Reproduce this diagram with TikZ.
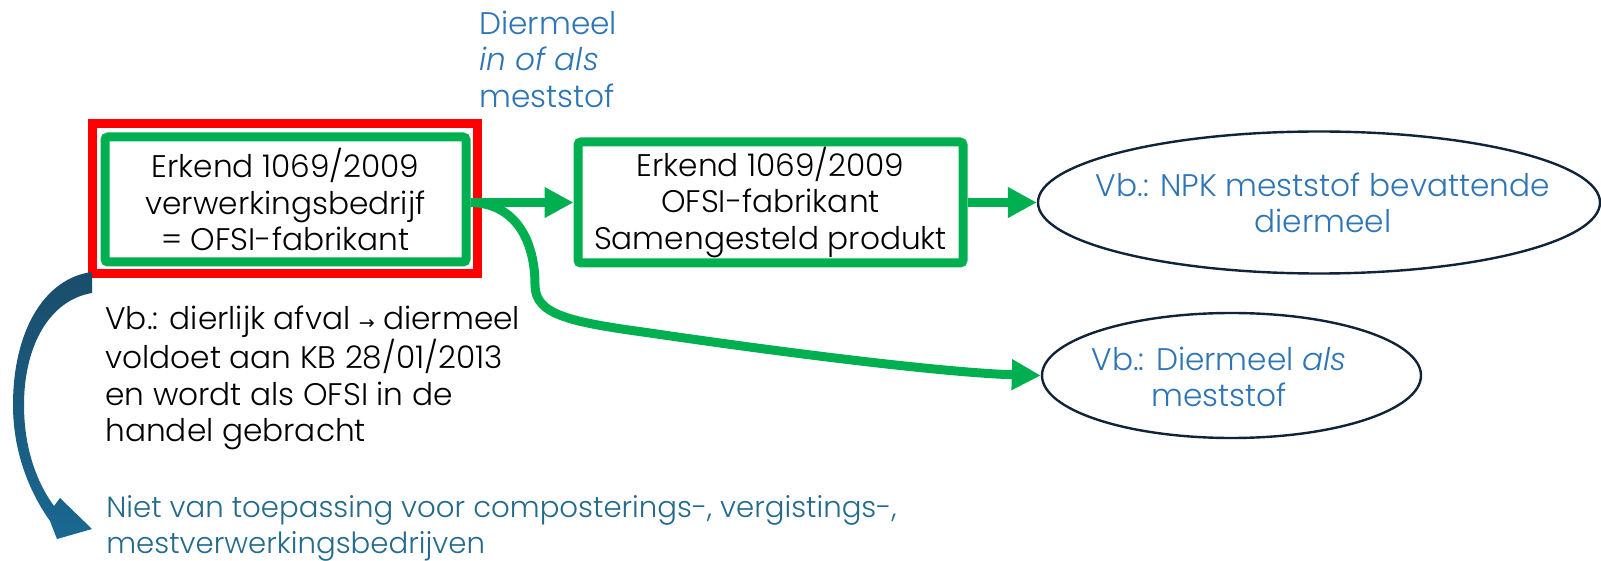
\documentclass[tikz,border=0pt]{standalone}
\usepackage{fontspec}
\setmainfont{Poppins Light}[ItalicFont={Poppins Light Italic}]
\newfontfamily\symfont{DejaVu Sans}
\usetikzlibrary{arrows.meta,shapes.geometric}
\definecolor{mygreen}{HTML}{00B050}
\definecolor{myred}{HTML}{FF0000}
\definecolor{myblue}{HTML}{2E75B6}
\definecolor{tealblue}{HTML}{236A8C}
\definecolor{navy}{HTML}{0F2438}
\definecolor{arrowtop}{HTML}{1A4D6B}
\definecolor{arrowbot}{HTML}{1A6891}
\begin{document}
\begin{tikzpicture}[x=0.5pt,y=-0.5pt,
  font=\fontsize{15.6pt}{18.25pt}\selectfont,
  greenbox/.style={draw=mygreen, line width=4.5pt, rounded corners=1.5pt, rectangle, inner sep=0pt, align=center},
  redbox/.style={draw=myred, line width=4.5pt, rectangle, inner sep=0pt},
  oval/.style={draw=navy, line width=1.2pt, ellipse, inner sep=0pt},
  ovaltext/.style={inner sep=0pt, align=center, text=myblue},
  garrow/.style={draw=mygreen, line width=4.5pt, -{Triangle[length=14.5pt,width=14.5pt]}},
  txt/.style={inner sep=0pt, align=left, anchor=west}]
\useasboundingbox (0,0) rectangle (1601,561);

\node[redbox, minimum width=192.5pt, minimum height=75pt] (red) at (284.5,199) {};
\node[greenbox, minimum width=180.5pt, minimum height=62.5pt] (box1) at (285.5,199.5)
  {Erkend 1069/2009\\verwerkingsbedrijf\\= OFSI-fabrikant};
\node[greenbox, minimum width=192.5pt, minimum height=60.5pt] (box2) at (770.5,202.5)
  {Erkend 1069/2009\\OFSI-fabrikant\\Samengesteld produkt};
\node[oval, minimum width=281pt, minimum height=71pt] (ell1) at (1319,202.5) {};
\node[ovaltext] (ell1txt) at (1323,203)
  {Vb.: NPK meststof bevattende\\diermeel};
\node[oval, minimum width=189.5pt, minimum height=62.5pt] (ell2) at (1231.5,375.5) {};
\node[ovaltext] (ell2txt) at (1219,377)
  {Vb.: Diermeel \textit{als}\\meststof};

\node[txt, text=myblue] (top) at (479,59) {Diermeel\\\textit{in of als}\\meststof};
\node[txt] (expl) at (105,378) {Vb.: dierlijk afval {\symfont\fontsize{9.5pt}{9.5pt}\selectfont →} diermeel\\voldoet aan KB 28/01/2013\\en wordt als OFSI in de\\handel gebracht};
\node[txt, text=tealblue, font=\fontsize{14.6pt}{18pt}\selectfont] (note) at (106,528.5) {Niet van toepassing voor composterings-, vergistings-,\\mestverwerkingsbedrijven};

\draw[garrow] (box1.east |- box2.west) -- (box2.west);
\draw[garrow] (box2.east) -- (ell1.west);
\draw[garrow] (box1.east |- box2.west) .. controls (515,203) and (535,240) .. (535,285)
  .. controls (535,315) and (570,322) .. (650,333)
  .. controls (800,355) and (950,373) .. (ell2.west);

\shade[top color=arrowtop, bottom color=arrowbot]
  (92,272) .. controls (45,278) and (13,330) .. (13,405)
  .. controls (13,450) and (28,490) .. (50,521) -- (57,539) -- (92,529) -- (60,498) -- (54,506)
  .. controls (35,480) and (24,445) .. (24,405)
  .. controls (24,345) and (50,300) .. (92,293) -- cycle;
\end{tikzpicture}
\end{document}
